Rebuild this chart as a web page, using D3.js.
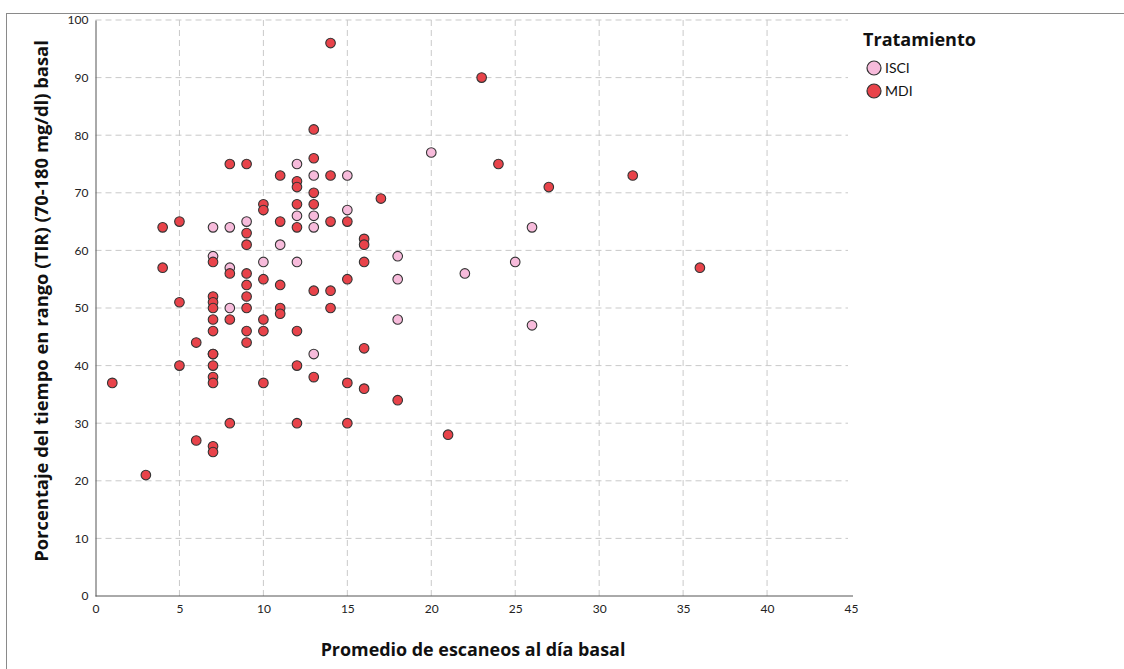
<!DOCTYPE html>
<html>
<head>
<meta charset="utf-8">
<script src="https://cdn.jsdelivr.net/npm/d3@7"></script>
<style>
  body { margin: 0; background: #fff; }
  svg { display: block; font-family: Lato, "Open Sans", sans-serif; }
</style>
</head>
<body>
<svg id="chart" width="1124" height="669"></svg>
<script>
// ======== data (x = escaneos/día, y = % TIR)
const isciPoints = [
  [7, 64], [7, 59], [8, 64], [8, 57], [8, 50], [9, 65], [10, 58], [11, 61],
  [12, 75], [12, 66], [12, 58], [13, 73], [13, 66], [13, 64], [13, 42],
  [15, 73], [15, 67], [18, 59], [18, 55], [18, 48], [20, 77], [22, 56],
  [25, 58], [26, 64], [26, 47]
];

const mdiPoints = [
  [1, 37], [3, 21], [4, 64], [4, 57], [5, 65], [5, 51], [5, 40], [6, 44], [6, 27],
  [7, 58], [7, 52], [7, 51], [7, 50], [7, 48], [7, 46], [7, 42], [7, 42], [7, 40],
  [7, 38], [7, 37], [7, 26], [7, 25],
  [8, 75], [8, 56], [8, 48], [8, 30],
  [9, 75], [9, 63], [9, 61], [9, 56], [9, 54], [9, 52], [9, 50], [9, 46], [9, 44],
  [10, 68], [10, 67], [10, 55], [10, 48], [10, 46], [10, 37],
  [11, 73], [11, 65], [11, 54], [11, 50], [11, 49],
  [12, 72], [12, 71], [12, 68], [12, 64], [12, 46], [12, 40], [12, 30],
  [13, 81], [13, 76], [13, 70], [13, 68], [13, 53], [13, 38],
  [14, 96], [14, 73], [14, 65], [14, 53], [14, 50],
  [15, 65], [15, 55], [15, 37], [15, 30],
  [16, 62], [16, 61], [16, 58], [16, 43], [16, 36],
  [17, 69], [18, 34], [21, 28], [23, 90], [24, 75], [27, 71], [32, 73], [36, 57]
];

const series = [
  { name: "ISCI", color: "#f7bbdb", points: isciPoints },
  { name: "MDI", color: "#e8434a", points: mdiPoints }
];

const xTicks = [0, 5, 10, 15, 20, 25, 30, 35, 40, 45];
const yTicks = [0, 10, 20, 30, 40, 50, 60, 70, 80, 90, 100];

// ======== layout
const svg = d3.select("#chart");
const plot = { left: 95.5, right: 851, top: 20, bottom: 596 };

const x = d3.scaleLinear().domain([0, 45]).range([plot.left, plot.right]);
const y = d3.scaleLinear().domain([0, 100]).range([plot.bottom, plot.top]);

// outer frame
svg.append("rect")
  .attr("x", 6.5).attr("y", 13.5)
  .attr("width", 1130).attr("height", 700)
  .attr("fill", "none")
  .attr("stroke", "#8a8a8a");

// grid
const grid = svg.append("g")
  .attr("stroke", "#c9c9c9")
  .attr("stroke-dasharray", "6,4");

grid.selectAll("line.h")
  .data(yTicks.filter(d => d > 0))
  .join("line")
  .attr("x1", plot.left).attr("x2", 848)
  .attr("y1", d => y(d)).attr("y2", d => y(d));

grid.selectAll("line.v")
  .data(xTicks.filter(d => d > 0 && d < 45))
  .join("line")
  .attr("x1", d => x(d)).attr("x2", d => x(d))
  .attr("y1", plot.top).attr("y2", plot.bottom);

// axes
const xAxis = svg.append("g")
  .attr("transform", `translate(0,${plot.bottom})`)
  .call(d3.axisBottom(x).tickValues(xTicks).tickSize(0).tickPadding(8));
xAxis.select(".domain").attr("stroke", "#555").attr("d", `M${plot.left},0H853`);

const yAxis = svg.append("g")
  .attr("transform", `translate(${plot.left},0)`)
  .call(d3.axisLeft(y).tickValues(yTicks).tickSize(0).tickPadding(7));
yAxis.select(".domain").attr("stroke", "#555");

svg.selectAll(".tick text")
  .attr("font-family", "Lato, 'Open Sans', sans-serif")
  .attr("font-size", 12)
  .attr("fill", "#222");

// points: ISCI first, MDI on top
series.forEach(s => {
  svg.append("g")
    .selectAll("circle")
    .data(s.points)
    .join("circle")
    .attr("cx", d => x(d[0]))
    .attr("cy", d => y(d[1]))
    .attr("r", 4.8)
    .attr("fill", s.color)
    .attr("stroke", "#333")
    .attr("stroke-width", 1.1);
});

// titles, font size fitted to the width they take in the original
function fitText(sel, width) {
  const len = sel.node().getComputedTextLength();
  const size = parseFloat(sel.attr("font-size"));
  sel.attr("font-size", size * width / len);
}

const xTitle = svg.append("text")
  .attr("x", 473).attr("y", 656)
  .attr("text-anchor", "middle")
  .attr("font-family", "'Open Sans', Lato, sans-serif")
  .attr("font-size", 16).attr("font-weight", "bold")
  .attr("fill", "#111")
  .text("Promedio de escaneos al día basal");
fitText(xTitle, 305);

const yTitle = svg.append("text")
  .attr("transform", "translate(48,301) rotate(-90)")
  .attr("text-anchor", "middle")
  .attr("font-family", "'Open Sans', Lato, sans-serif")
  .attr("font-size", 16).attr("font-weight", "bold")
  .attr("fill", "#111")
  .text("Porcentaje del tiempo en rango (TIR) (70-180 mg/dl) basal");
fitText(yTitle, 522);

// legend
const legend = svg.append("g");
const legendTitle = legend.append("text")
  .attr("x", 863).attr("y", 46)
  .attr("font-family", "'Open Sans', Lato, sans-serif")
  .attr("font-size", 17).attr("font-weight", "bold")
  .attr("fill", "#111")
  .text("Tratamiento");
fitText(legendTitle, 113);

const item = legend.selectAll("g.item")
  .data(series)
  .join("g")
  .attr("transform", (d, i) => `translate(874,${68 + i * 23})`);

item.append("circle")
  .attr("r", 7)
  .attr("fill", d => d.color)
  .attr("stroke", "#333")
  .attr("stroke-width", 1.2);

item.append("text")
  .attr("x", 11).attr("y", 5)
  .attr("font-size", 14)
  .attr("fill", "#111")
  .text(d => d.name);
</script>
</body>
</html>
